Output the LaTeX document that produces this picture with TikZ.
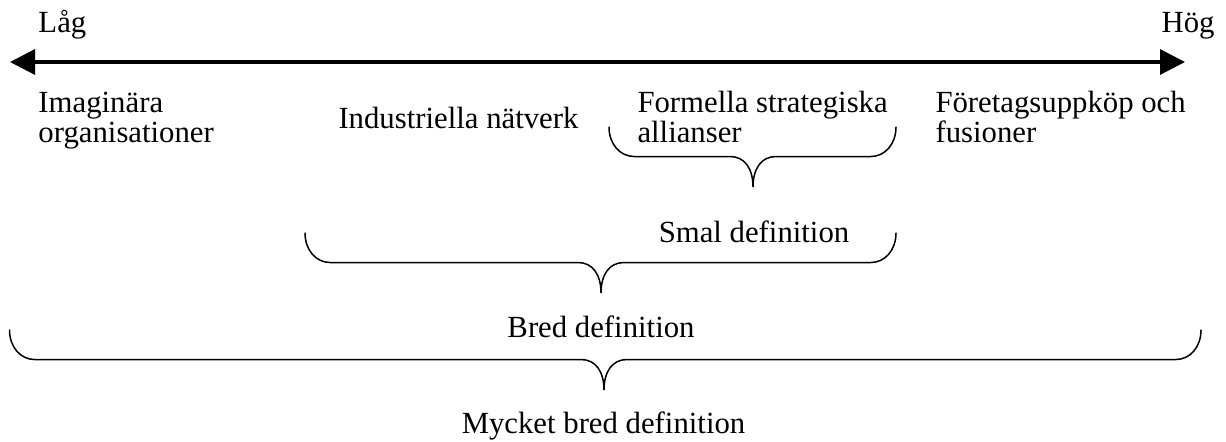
\documentclass[tikz,border=0pt]{standalone}
\usepackage{fontspec}
\setmainfont{Liberation Serif}
\usepackage{tikz}
\usetikzlibrary{arrows.meta}

\tikzset{
  txt/.style={inner sep=0pt, font=\fontsize{12.3pt}{12pt}\selectfont},
  bracket/.style={line width=0.6pt, line cap=round},
  axis/.style={line width=1.3pt, <->}
}

\begin{document}
\begin{tikzpicture}[>={Triangle[length=10pt,width=10pt]}, x=0.4pt, y=-0.4pt]
\useasboundingbox (0,0) rectangle (1226,441);

% scale
\coordinate (lo) at (10,62);
\coordinate (hi) at (1185,62);
\draw[axis] (lo) -- (hi);
\node[txt, anchor=base west] (low) at (38,32) {Låg};
\node[txt, anchor=base east] (high) at (1215,32) {Hög};

% forms of cooperation (base = last line)
\node[txt, anchor=base west, align=left] (imag) at (38,142) {Imaginära\\organisationer};
\node[txt, anchor=base west] (indnet) at (338,128) {Industriella nätverk};
\node[txt, anchor=base west, align=left] (alli) at (637,142) {Formella strategiska\\allianser};
\node[txt, anchor=base west, align=left] (merge) at (935,142) {Företagsuppköp och\\fusioner};

% braces: left / tip / right / top
\foreach \l/\t/\r/\y in {609/753/896/127, 305/601/896/233, 9.5/604/1201/330}{
  \draw[bracket] (\l,\y) .. controls (\l,\y+17) and (\l+11,\y+29.5) .. (\l+25,\y+29.5)
    -- (\t-23,\y+29.5) .. controls (\t-8,\y+29.5) and (\t,\y+42) .. (\t,\y+60)
    .. controls (\t,\y+42) and (\t+8,\y+29.5) .. (\t+23,\y+29.5)
    -- (\r-25,\y+29.5) .. controls (\r-11,\y+29.5) and (\r,\y+17) .. (\r,\y);
}

\node[txt, anchor=base] (narrow) at (754,242) {Smal definition};
\node[txt, anchor=base] (broad) at (601,337) {Bred definition};
\node[txt, anchor=base] (vbroad) at (603.5,433) {Mycket bred definition};
\end{tikzpicture}
\end{document}
